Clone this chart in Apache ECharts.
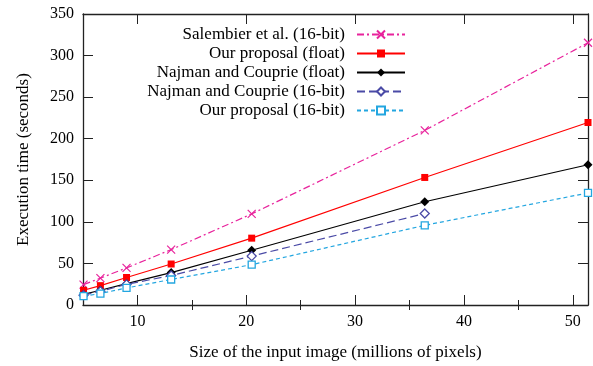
<!DOCTYPE html>
<html>
<head>
<meta charset="utf-8">
<script src="https://cdn.jsdelivr.net/npm/echarts@6/dist/echarts.min.js"></script>
<style>html,body{margin:0;padding:0;background:#fff}#c{width:593px;height:366px}</style>
</head>
<body>
<div id="c"></div>
<script>
// Data
const sizes = [5.05, 6.6, 9.0, 13.1, 20.5, 36.4, 51.4];
const salembier16 = [24.5, 32.3, 44.6, 66.6, 109.6, 210, 315.4];
const oursFloat = [17.7, 23.3, 33.1, 49.3, 80.4, 153.4, 219.5];
const najmanFloat = [12.7, 17.7, 25.7, 39.0, 65.9, 124.2, 168.7];
const najman16 = [11.8, 16.5, 24.8, 35.5, 58.8, 110];
const ours16 = [10.6, 13.8, 20.5, 30.7, 48.5, 95.8, 134.8];
const xMajorTicks = [10, 20, 30, 40, 50];
const xMinorTicks = [15, 25, 35, 45];
const names = ['Salembier et al. (16-bit)', 'Our proposal (float)', 'Najman and Couprie (float)', 'Najman and Couprie (16-bit)', 'Our proposal (16-bit)'];

const pair = (ys) => ys.map((y, i) => [sizes[i], y]);
const FONT = 'Liberation Serif';
const axisCol = '#222';
const xMin = 5, xMax = 51.4;

const baseX = {
  type: 'value', min: xMin, max: xMax,
  splitLine: { show: false },
  axisLine: { show: false },
  axisLabel: { show: false },
  axisTick: { show: false }
};
const chart = echarts.init(document.getElementById('c'));
chart.setOption({
  animation: false,
  grid: { left: 83, right: 5, top: 14, bottom: 56 },
  xAxis: [
    Object.assign({}, baseX, {
      position: 'bottom',
      name: 'Size of the input image (millions of pixels)',
      nameLocation: 'middle', nameGap: 39,
      nameTextStyle: { fontFamily: FONT, fontSize: 17, color: '#000' },
      axisLine: { show: true, onZero: false, lineStyle: { color: axisCol, width: 1.3 } },
      axisTick: { show: true, inside: true, length: 10, customValues: xMajorTicks, lineStyle: { color: axisCol } },
      axisLabel: { show: true, customValues: xMajorTicks, margin: 9, fontFamily: FONT, fontSize: 16, color: '#000' }
    }),
    Object.assign({}, baseX, {
      position: 'bottom',
      axisTick: { show: true, inside: true, length: 5, customValues: xMinorTicks, lineStyle: { color: axisCol } }
    }),
    Object.assign({}, baseX, {
      position: 'top',
      axisLine: { show: true, onZero: false, lineStyle: { color: axisCol, width: 1.3 } },
      axisTick: { show: true, inside: true, length: 10, customValues: xMajorTicks, lineStyle: { color: axisCol } }
    }),
    Object.assign({}, baseX, {
      position: 'top',
      axisTick: { show: true, inside: true, length: 5, customValues: xMinorTicks, lineStyle: { color: axisCol } }
    })
  ],
  yAxis: [
    {
      type: 'value', min: 0, max: 350, interval: 50, position: 'left',
      name: 'Execution time (seconds)', nameLocation: 'middle', nameGap: 51,
      nameTextStyle: { fontFamily: FONT, fontSize: 17, color: '#000' },
      splitLine: { show: false },
      axisLine: { show: true, onZero: false, lineStyle: { color: axisCol, width: 1.3 } },
      axisTick: { show: true, inside: true, length: 10, lineStyle: { color: axisCol } },
      axisLabel: { margin: 9, fontFamily: FONT, fontSize: 16, color: '#000' }
    },
    {
      type: 'value', min: 0, max: 350, interval: 50, position: 'right',
      splitLine: { show: false },
      axisLine: { show: true, onZero: false, lineStyle: { color: axisCol, width: 1.3 } },
      axisTick: { show: true, inside: true, length: 10, lineStyle: { color: axisCol } },
      axisLabel: { show: false }
    }
  ],
  legend: {
    orient: 'vertical', right: 182, top: 20, align: 'right',
    itemWidth: 48, itemHeight: 10, itemGap: 0,
    selectedMode: false,
    textStyle: { fontFamily: FONT, fontSize: 17, color: '#000', width: 200, align: 'right', lineHeight: 19, padding: [0, 7, 0, 0] },
    data: names
  },
  series: [
    {
      name: names[0], type: 'line', data: pair(salembier16), clip: false,
      symbol: 'path://M0,0L10,10M10,0L0,10', symbolSize: 8,
      itemStyle: { color: '#e8239c', borderColor: '#e8239c', borderWidth: 1.2 },
      lineStyle: { color: '#e8239c', width: 1.2, type: [7, 3, 2, 3] }
    },
    {
      name: names[1], type: 'line', data: pair(oursFloat), clip: false,
      symbol: 'rect', symbolSize: 7,
      itemStyle: { color: '#ff0000' },
      lineStyle: { color: '#ff0000', width: 1.2 }
    },
    {
      name: names[2], type: 'line', data: pair(najmanFloat), clip: false,
      symbol: 'diamond', symbolSize: 9,
      itemStyle: { color: '#000' },
      lineStyle: { color: '#000', width: 1.2 }
    },
    {
      name: names[3], type: 'line', data: pair(najman16), clip: false,
      symbol: 'diamond', symbolSize: 9,
      itemStyle: { color: '#fff', borderColor: '#4a4aa6', borderWidth: 1.3 },
      lineStyle: { color: '#4a4aa6', width: 1.2, type: [8, 4] }
    },
    {
      name: names[4], type: 'line', data: pair(ours16), clip: false,
      symbol: 'rect', symbolSize: 7,
      itemStyle: { color: '#fff', borderColor: '#23a6e0', borderWidth: 1.3 },
      lineStyle: { color: '#23a6e0', width: 1.2, type: [4, 3] }
    }
  ]
});
</script>
</body>
</html>
